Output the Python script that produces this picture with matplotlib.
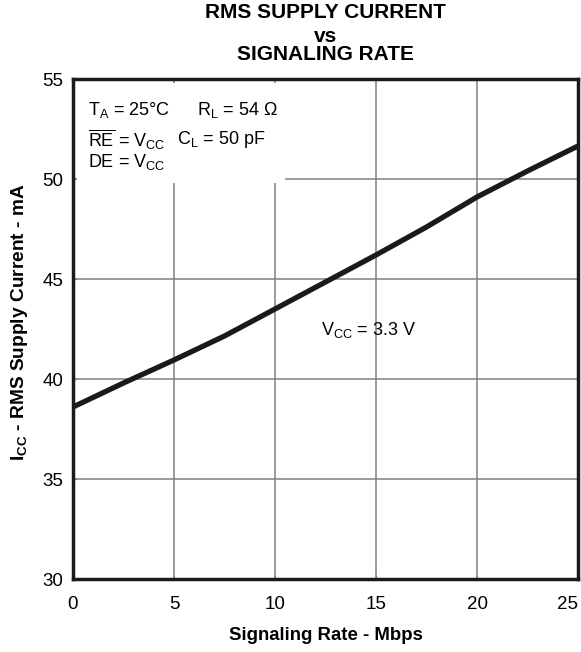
import matplotlib
matplotlib.use("Agg")
import matplotlib.pyplot as plt
from matplotlib.patches import Rectangle

rate_mbps = [0, 2.5, 5, 7.5, 10, 12.5, 15, 17.5, 20, 22.5, 25]
icc_ma = [38.6, 39.8, 40.95, 42.15, 43.5, 44.85, 46.2, 47.6, 49.1, 50.4, 51.65]
x_ticks = [0, 5, 10, 15, 20, 25]
y_ticks = [30, 35, 40, 45, 50, 55]

plt.rcParams['font.family'] = ['Liberation Sans', 'DejaVu Sans']
plt.rcParams['mathtext.default'] = 'regular'

W, H = 581, 652
fig = plt.figure(figsize=(W / 100, H / 100), dpi=100)
L, R, T, B = 73, 578, 79, 579
ax = fig.add_axes([L / W, 1 - B / H, (R - L) / W, (B - T) / H])
ax.set_xlim(0, 25)
ax.set_ylim(30, 55)
ax.set_xticks(x_ticks)
ax.set_yticks(y_ticks)
ax.grid(True, color='#808080', linewidth=1.1)
ax.tick_params(direction='in', length=3, color='#808080', labelsize=13.5, pad=12)
ax.tick_params(axis='y', pad=7)
for s in ax.spines.values():
    s.set_linewidth(2.5)
    s.set_color('#1a1a1a')
    s.set_zorder(5)
xl = ax.get_xticklabels()
xl[-1].set_horizontalalignment('right')

# white box behind annotation
ax.add_patch(Rectangle((0.2, 49.82), 10.3, 4.98, facecolor='white', edgecolor='none', zorder=2))

ax.plot(rate_mbps, icc_ma, color='#1a1a1a', linewidth=3.8, zorder=4, solid_capstyle='butt')

fs = 13
ax.text(0.75, 53.45, '$T_A$ = 25°C', fontsize=fs, va='center', ha='left', zorder=3)
ax.text(6.15, 53.45, '$R_L$ = 54 Ω', fontsize=fs, va='center', ha='left', zorder=3)
ax.text(0.75, 51.95, r'$\overline{RE}$ = $V_{CC}$', fontsize=fs, va='center', ha='left', zorder=3)
ax.text(5.15, 51.95, '$C_L$ = 50 pF', fontsize=fs, va='center', ha='left', zorder=3)
ax.text(0.75, 50.85, 'DE = $V_{CC}$', fontsize=fs, va='center', ha='left', zorder=3)
ax.text(12.3, 42.45, '$V_{CC}$ = 3.3 V', fontsize=fs, va='center', ha='left', zorder=3)

cx = (L + R) / 2 / W
tfs = 15
fig.text(cx, 1 - 13 / H, 'RMS SUPPLY CURRENT', fontsize=tfs, fontweight='bold', ha='center', va='center')
fig.text(cx, 1 - 36 / H, 'vs', fontsize=tfs, fontweight='bold', ha='center', va='center')
fig.text(cx, 1 - 55 / H, 'SIGNALING RATE', fontsize=tfs, fontweight='bold', ha='center', va='center')

fig.text(cx, 1 - 635 / H, 'Signaling Rate - Mbps', fontsize=13.4, fontweight='bold', ha='center', va='center')
fig.text(20 / W, 1 - 322 / H, '$I_{CC}$ - RMS Supply Current - mA', fontsize=13.8, fontweight='bold',
         ha='center', va='center', rotation=90)

fig.savefig('out.png', dpi=100)
